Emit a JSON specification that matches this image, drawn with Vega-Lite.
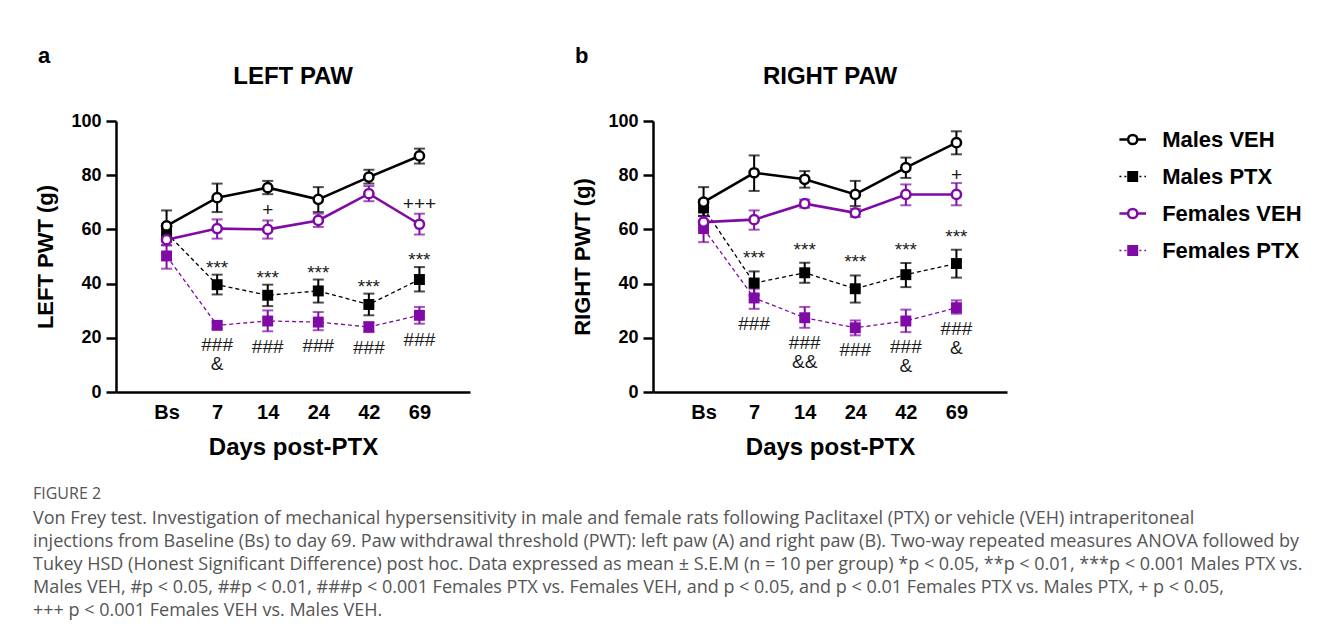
{
  "$schema": "https://vega.github.io/schema/vega-lite/v6.json",
  "background": "white",
  "padding": {"left": 33, "top": 45, "right": 0, "bottom": 0},
  "autosize": {"type": "pad"},
  "config": {
    "font": "Liberation Sans",
    "view": {"stroke": null},
    "concat": {"spacing": 0},
    "axisX": {"domainWidth": 2.5, "domainColor": "black", "ticks": false, "labelFontSize": 20, "labelFontWeight": "bold", "labelColor": "black", "labelPadding": 10, "labelAngle": 0, "titleFontSize": 24, "titleFontWeight": "bold", "titleColor": "black", "titlePadding": 13, "grid": false},
    "axisY": {"domainWidth": 2.5, "domainColor": "black", "tickWidth": 2.5, "tickSize": 10, "tickColor": "black", "labelFontSize": 18, "labelFontWeight": "bold", "labelColor": "black", "labelPadding": 5, "titleFontSize": 22, "titleFontWeight": "bold", "titleColor": "black", "titlePadding": 13, "grid": false, "values": [0, 20, 40, 60, 80, 100]}
  },
  "datasets": {
    "pwt": [
      {"paw": "LEFT", "day": "Bs", "series": "Males VEH", "mean": 61.3, "lo": 56.0, "hi": 67.0, "note": ""},
      {"paw": "LEFT", "day": "7", "series": "Males VEH", "mean": 71.7, "lo": 66.4, "hi": 76.9, "note": ""},
      {"paw": "LEFT", "day": "14", "series": "Males VEH", "mean": 75.4, "lo": 73.0, "hi": 77.9, "note": ""},
      {"paw": "LEFT", "day": "24", "series": "Males VEH", "mean": 71.1, "lo": 66.4, "hi": 75.6, "note": ""},
      {"paw": "LEFT", "day": "42", "series": "Males VEH", "mean": 79.3, "lo": 76.9, "hi": 82.0, "note": ""},
      {"paw": "LEFT", "day": "69", "series": "Males VEH", "mean": 87.1, "lo": 84.3, "hi": 89.8, "note": ""},
      {"paw": "LEFT", "day": "Bs", "series": "Males PTX", "mean": 58.7, "lo": 55.5, "hi": 62.0, "note": ""},
      {"paw": "LEFT", "day": "7", "series": "Males PTX", "mean": 39.6, "lo": 36.0, "hi": 43.3, "note": "***"},
      {"paw": "LEFT", "day": "14", "series": "Males PTX", "mean": 35.7, "lo": 31.7, "hi": 39.6, "note": "***"},
      {"paw": "LEFT", "day": "24", "series": "Males PTX", "mean": 37.3, "lo": 33.0, "hi": 41.5, "note": "***"},
      {"paw": "LEFT", "day": "42", "series": "Males PTX", "mean": 32.3, "lo": 28.3, "hi": 36.3, "note": "***"},
      {"paw": "LEFT", "day": "69", "series": "Males PTX", "mean": 41.5, "lo": 37.1, "hi": 46.1, "note": "***"},
      {"paw": "LEFT", "day": "Bs", "series": "Females VEH", "mean": 56.2, "lo": 54.2, "hi": 58.2, "note": ""},
      {"paw": "LEFT", "day": "7", "series": "Females VEH", "mean": 60.3, "lo": 56.6, "hi": 63.7, "note": ""},
      {"paw": "LEFT", "day": "14", "series": "Females VEH", "mean": 60.0, "lo": 56.6, "hi": 63.3, "note": "+"},
      {"paw": "LEFT", "day": "24", "series": "Females VEH", "mean": 63.3, "lo": 60.9, "hi": 65.8, "note": ""},
      {"paw": "LEFT", "day": "42", "series": "Females VEH", "mean": 73.2, "lo": 70.4, "hi": 76.0, "note": ""},
      {"paw": "LEFT", "day": "69", "series": "Females VEH", "mean": 61.9, "lo": 58.1, "hi": 65.8, "note": "+++"},
      {"paw": "LEFT", "day": "Bs", "series": "Females PTX", "mean": 50.2, "lo": 45.5, "hi": 54.1, "note": ""},
      {"paw": "LEFT", "day": "7", "series": "Females PTX", "mean": 24.6, "lo": 23.4, "hi": 25.8, "note": "###\n&"},
      {"paw": "LEFT", "day": "14", "series": "Females PTX", "mean": 26.2, "lo": 22.4, "hi": 30.1, "note": "###"},
      {"paw": "LEFT", "day": "24", "series": "Females PTX", "mean": 25.8, "lo": 22.8, "hi": 29.5, "note": "###"},
      {"paw": "LEFT", "day": "42", "series": "Females PTX", "mean": 24.0, "lo": 22.1, "hi": 25.8, "note": "###"},
      {"paw": "LEFT", "day": "69", "series": "Females PTX", "mean": 28.3, "lo": 25.2, "hi": 31.4, "note": "###"},
      {"paw": "RIGHT", "day": "Bs", "series": "Males VEH", "mean": 70.1, "lo": 65.0, "hi": 75.6, "note": ""},
      {"paw": "RIGHT", "day": "7", "series": "Males VEH", "mean": 80.9, "lo": 74.2, "hi": 87.3, "note": ""},
      {"paw": "RIGHT", "day": "14", "series": "Males VEH", "mean": 78.5, "lo": 75.4, "hi": 81.5, "note": ""},
      {"paw": "RIGHT", "day": "24", "series": "Males VEH", "mean": 72.9, "lo": 68.6, "hi": 77.9, "note": ""},
      {"paw": "RIGHT", "day": "42", "series": "Males VEH", "mean": 82.8, "lo": 79.0, "hi": 86.5, "note": ""},
      {"paw": "RIGHT", "day": "69", "series": "Males VEH", "mean": 92.0, "lo": 87.7, "hi": 96.2, "note": ""},
      {"paw": "RIGHT", "day": "Bs", "series": "Males PTX", "mean": 67.9, "lo": 64.9, "hi": 70.9, "note": ""},
      {"paw": "RIGHT", "day": "7", "series": "Males PTX", "mean": 40.2, "lo": 35.7, "hi": 44.5, "note": "***"},
      {"paw": "RIGHT", "day": "14", "series": "Males PTX", "mean": 44.0, "lo": 40.3, "hi": 47.7, "note": "***"},
      {"paw": "RIGHT", "day": "24", "series": "Males PTX", "mean": 38.1, "lo": 33.0, "hi": 43.0, "note": "***"},
      {"paw": "RIGHT", "day": "42", "series": "Males PTX", "mean": 43.3, "lo": 38.7, "hi": 47.6, "note": "***"},
      {"paw": "RIGHT", "day": "69", "series": "Males PTX", "mean": 47.4, "lo": 42.2, "hi": 52.5, "note": "***"},
      {"paw": "RIGHT", "day": "Bs", "series": "Females VEH", "mean": 62.7, "lo": 60.5, "hi": 64.9, "note": ""},
      {"paw": "RIGHT", "day": "7", "series": "Females VEH", "mean": 63.6, "lo": 59.9, "hi": 67.0, "note": ""},
      {"paw": "RIGHT", "day": "14", "series": "Females VEH", "mean": 69.5, "lo": 68.0, "hi": 71.0, "note": ""},
      {"paw": "RIGHT", "day": "24", "series": "Females VEH", "mean": 66.1, "lo": 64.6, "hi": 67.6, "note": ""},
      {"paw": "RIGHT", "day": "42", "series": "Females VEH", "mean": 72.9, "lo": 68.9, "hi": 76.6, "note": ""},
      {"paw": "RIGHT", "day": "69", "series": "Females VEH", "mean": 72.9, "lo": 68.9, "hi": 77.1, "note": "+"},
      {"paw": "RIGHT", "day": "Bs", "series": "Females PTX", "mean": 60.3, "lo": 55.3, "hi": 63.3, "note": ""},
      {"paw": "RIGHT", "day": "7", "series": "Females PTX", "mean": 34.7, "lo": 30.7, "hi": 38.1, "note": "###"},
      {"paw": "RIGHT", "day": "14", "series": "Females PTX", "mean": 27.4, "lo": 23.7, "hi": 31.4, "note": "###\n&&"},
      {"paw": "RIGHT", "day": "24", "series": "Females PTX", "mean": 23.7, "lo": 20.9, "hi": 26.4, "note": "###"},
      {"paw": "RIGHT", "day": "42", "series": "Females PTX", "mean": 26.2, "lo": 22.1, "hi": 30.4, "note": "###\n&"},
      {"paw": "RIGHT", "day": "69", "series": "Females PTX", "mean": 31.1, "lo": 28.9, "hi": 33.8, "note": "###\n&"}
    ],
    "legend": [
      {"series": "Males VEH"},
      {"series": "Males PTX"},
      {"series": "Females VEH"},
      {"series": "Females PTX"}
    ],
    "caption": [
      {"line": 1, "text": "Von Frey test. Investigation of mechanical hypersensitivity in male and female rats following Paclitaxel (PTX) or vehicle (VEH) intraperitoneal"},
      {"line": 2, "text": "injections from Baseline (Bs) to day 69. Paw withdrawal threshold (PWT): left paw (A) and right paw (B). Two-way repeated measures ANOVA followed by"},
      {"line": 3, "text": "Tukey HSD (Honest Significant Difference) post hoc. Data expressed as mean ± S.E.M (n = 10 per group) *p < 0.05, **p < 0.01, ***p < 0.001 Males PTX vs."},
      {"line": 4, "text": "Males VEH, #p < 0.05, ##p < 0.01, ###p < 0.001 Females PTX vs. Females VEH, and p < 0.05, and p < 0.01 Females PTX vs. Males PTX, + p < 0.05,"},
      {"line": 5, "text": "+++ p < 0.001 Females VEH vs. Males VEH."}
    ]
  },
  "vconcat": [
    {
      "hconcat": [
        {
          "title": {"text": "a", "anchor": "start", "fontSize": 22, "fontWeight": "bold", "color": "black", "offset": -3, "dx": 3},
          "vconcat": [
            {
              "width": 354, "height": 271,
              "title": {"text": "LEFT PAW", "anchor": "middle", "fontSize": 24, "fontWeight": "bold", "color": "black", "offset": 23},
              "data": {"name": "pwt"},
              "transform": [{"filter": "datum.paw === 'LEFT'"}],
              "encoding": {
                "x": {"field": "day", "type": "ordinal", "sort": ["Bs", "7", "14", "24", "42", "69"], "scale": {"type": "point", "padding": 1}, "title": "Days post-PTX"},
                "color": {"field": "series", "type": "nominal", "scale": {"domain": ["Males VEH", "Males PTX", "Females VEH", "Females PTX"], "range": ["#000000", "#000000", "#800aa5", "#800aa5"]}, "legend": null}
              },
              "layer": [
                {"transform": [{"filter": "datum.series === 'Males PTX' || datum.series === 'Females PTX'"}], "mark": {"type": "line", "strokeWidth": 1.3, "strokeDash": [4, 3]}, "encoding": {"y": {"field": "mean", "type": "quantitative", "scale": {"domain": [0, 100]}, "title": "LEFT PWT (g)"}}},
                {"transform": [{"filter": "datum.series === 'Males VEH' || datum.series === 'Females VEH'"}], "mark": {"type": "line", "strokeWidth": 2.6}, "encoding": {"y": {"field": "mean", "type": "quantitative", "title": "LEFT PWT (g)"}}},
                {"mark": {"type": "errorbar", "ticks": true, "thickness": 2, "size": 11}, "encoding": {"y": {"field": "lo", "type": "quantitative", "title": "LEFT PWT (g)"}, "y2": {"field": "hi"}}},
                {"transform": [{"filter": "datum.series === 'Males PTX' || datum.series === 'Females PTX'"}], "mark": {"type": "point", "shape": "square", "filled": true, "size": 120, "opacity": 1}, "encoding": {"y": {"field": "mean", "type": "quantitative", "title": "LEFT PWT (g)"}}},
                {"transform": [{"filter": "datum.series === 'Males VEH' || datum.series === 'Females VEH'"}], "mark": {"type": "point", "shape": "circle", "filled": false, "fill": "white", "fillOpacity": 1, "strokeWidth": 2.5, "size": 85, "opacity": 1}, "encoding": {"y": {"field": "mean", "type": "quantitative", "title": "LEFT PWT (g)"}}},
                {"transform": [{"filter": "datum.series === 'Males PTX' && datum.note !== ''"}], "mark": {"type": "text", "fontSize": 19, "baseline": "alphabetic", "dy": -1, "color": "#1a1a1a"}, "encoding": {"y": {"field": "hi", "type": "quantitative", "title": "LEFT PWT (g)"}, "text": {"field": "note"}, "color": {"value": "#1a1a1a"}}},
                {"transform": [{"filter": "datum.series === 'Females VEH' && datum.note !== ''"}], "mark": {"type": "text", "fontSize": 19, "baseline": "alphabetic", "dy": -4, "color": "#1a1a1a"}, "encoding": {"y": {"field": "hi", "type": "quantitative", "title": "LEFT PWT (g)"}, "text": {"field": "note"}, "color": {"value": "#1a1a1a"}}},
                {"transform": [{"filter": "datum.series === 'Females PTX' && datum.note !== ''"}], "mark": {"type": "text", "fontSize": 19, "baseline": "top", "dy": 7, "lineBreak": "\n", "lineHeight": 19, "color": "#1a1a1a"}, "encoding": {"y": {"field": "lo", "type": "quantitative", "title": "LEFT PWT (g)"}, "text": {"field": "note"}, "color": {"value": "#1a1a1a"}}}
              ]
            }
          ]
        },
        {
          "title": {"text": "b", "anchor": "start", "fontSize": 22, "fontWeight": "bold", "color": "black", "offset": -3, "dx": 3},
          "vconcat": [
            {
              "width": 354, "height": 271,
              "title": {"text": "RIGHT PAW", "anchor": "middle", "fontSize": 24, "fontWeight": "bold", "color": "black", "offset": 23},
              "data": {"name": "pwt"},
              "transform": [{"filter": "datum.paw === 'RIGHT'"}],
              "encoding": {
                "x": {"field": "day", "type": "ordinal", "sort": ["Bs", "7", "14", "24", "42", "69"], "scale": {"type": "point", "padding": 1}, "title": "Days post-PTX"},
                "color": {"field": "series", "type": "nominal", "scale": {"domain": ["Males VEH", "Males PTX", "Females VEH", "Females PTX"], "range": ["#000000", "#000000", "#800aa5", "#800aa5"]}, "legend": null}
              },
              "layer": [
                {"transform": [{"filter": "datum.series === 'Males PTX' || datum.series === 'Females PTX'"}], "mark": {"type": "line", "strokeWidth": 1.3, "strokeDash": [4, 3]}, "encoding": {"y": {"field": "mean", "type": "quantitative", "scale": {"domain": [0, 100]}, "title": "RIGHT PWT (g)"}}},
                {"transform": [{"filter": "datum.series === 'Males VEH' || datum.series === 'Females VEH'"}], "mark": {"type": "line", "strokeWidth": 2.6}, "encoding": {"y": {"field": "mean", "type": "quantitative", "title": "RIGHT PWT (g)"}}},
                {"mark": {"type": "errorbar", "ticks": true, "thickness": 2, "size": 11}, "encoding": {"y": {"field": "lo", "type": "quantitative", "title": "RIGHT PWT (g)"}, "y2": {"field": "hi"}}},
                {"transform": [{"filter": "datum.series === 'Males PTX' || datum.series === 'Females PTX'"}], "mark": {"type": "point", "shape": "square", "filled": true, "size": 120, "opacity": 1}, "encoding": {"y": {"field": "mean", "type": "quantitative", "title": "RIGHT PWT (g)"}}},
                {"transform": [{"filter": "datum.series === 'Males VEH' || datum.series === 'Females VEH'"}], "mark": {"type": "point", "shape": "circle", "filled": false, "fill": "white", "fillOpacity": 1, "strokeWidth": 2.5, "size": 85, "opacity": 1}, "encoding": {"y": {"field": "mean", "type": "quantitative", "title": "RIGHT PWT (g)"}}},
                {"transform": [{"filter": "datum.series === 'Males PTX' && datum.note !== ''"}], "mark": {"type": "text", "fontSize": 19, "baseline": "alphabetic", "dy": -7, "color": "#1a1a1a"}, "encoding": {"y": {"field": "hi", "type": "quantitative", "title": "RIGHT PWT (g)"}, "text": {"field": "note"}, "color": {"value": "#1a1a1a"}}},
                {"transform": [{"filter": "datum.series === 'Females VEH' && datum.note !== ''"}], "mark": {"type": "text", "fontSize": 19, "baseline": "alphabetic", "dy": -2, "color": "#1a1a1a"}, "encoding": {"y": {"field": "hi", "type": "quantitative", "title": "RIGHT PWT (g)"}, "text": {"field": "note"}, "color": {"value": "#1a1a1a"}}},
                {"transform": [{"filter": "datum.series === 'Females PTX' && datum.note !== ''"}], "mark": {"type": "text", "fontSize": 19, "baseline": "top", "dy": 6, "lineBreak": "\n", "lineHeight": 19, "color": "#1a1a1a"}, "encoding": {"y": {"field": "lo", "type": "quantitative", "title": "RIGHT PWT (g)"}, "text": {"field": "note"}, "color": {"value": "#1a1a1a"}}}
              ]
            }
          ]
        },
        {
          "title": {"text": " ", "anchor": "start", "fontSize": 22, "fontWeight": "bold", "color": "black", "offset": -3},
          "vconcat": [
            {
              "width": 190, "height": 148,
              "title": {"text": " ", "anchor": "middle", "fontSize": 24, "fontWeight": "bold", "color": "black", "offset": 23},
              "data": {"name": "legend"},
              "encoding": {
                "y": {"field": "series", "type": "ordinal", "sort": ["Males VEH", "Males PTX", "Females VEH", "Females PTX"], "scale": {"type": "point", "padding": 0.5}, "axis": null},
                "color": {"field": "series", "type": "nominal", "scale": {"domain": ["Males VEH", "Males PTX", "Females VEH", "Females PTX"], "range": ["#000000", "#000000", "#800aa5", "#800aa5"]}, "legend": null}
              },
              "layer": [
                {"transform": [{"filter": "datum.series === 'Males VEH' || datum.series === 'Females VEH'"}], "mark": {"type": "rule", "strokeWidth": 2.5}, "encoding": {"x": {"datum": 12, "type": "quantitative", "scale": {"domain": [0, 190]}, "axis": null}, "x2": {"datum": 40}}},
                {"transform": [{"filter": "datum.series === 'Males PTX' || datum.series === 'Females PTX'"}], "mark": {"type": "rule", "strokeWidth": 1.5, "strokeDash": [2, 3]}, "encoding": {"x": {"datum": 12, "type": "quantitative"}, "x2": {"datum": 40}}},
                {"transform": [{"filter": "datum.series === 'Males PTX' || datum.series === 'Females PTX'"}], "mark": {"type": "point", "shape": "square", "filled": true, "size": 120, "opacity": 1}, "encoding": {"x": {"datum": 26, "type": "quantitative"}}},
                {"transform": [{"filter": "datum.series === 'Males VEH' || datum.series === 'Females VEH'"}], "mark": {"type": "point", "shape": "circle", "filled": false, "fill": "white", "fillOpacity": 1, "strokeWidth": 2.5, "size": 85, "opacity": 1}, "encoding": {"x": {"datum": 26, "type": "quantitative"}}},
                {"mark": {"type": "text", "align": "left", "baseline": "middle", "fontSize": 22, "fontWeight": "bold", "color": "black"}, "encoding": {"x": {"datum": 57, "type": "quantitative"}, "text": {"field": "series"}, "color": {"value": "black"}}}
              ]
            }
          ]
        }
      ],
      "spacing": 101
    },
    {
      "title": {"text": "FIGURE 2", "anchor": "start", "fontSize": 16, "fontWeight": "normal", "font": "Open Sans", "color": "#555555", "offset": 5},
      "width": 1150, "height": 115,
      "data": {"name": "caption"},
      "mark": {"type": "text", "align": "left", "baseline": "middle", "font": "Open Sans", "fontSize": 18, "color": "#555555", "dx": -83},
      "encoding": {
        "x": {"datum": 0, "type": "quantitative", "scale": {"domain": [0, 1]}, "axis": null},
        "y": {"field": "line", "type": "ordinal", "scale": {"type": "point", "padding": 0.5}, "axis": null},
        "text": {"field": "text"}
      }
    }
  ],
  "spacing": 27
}
